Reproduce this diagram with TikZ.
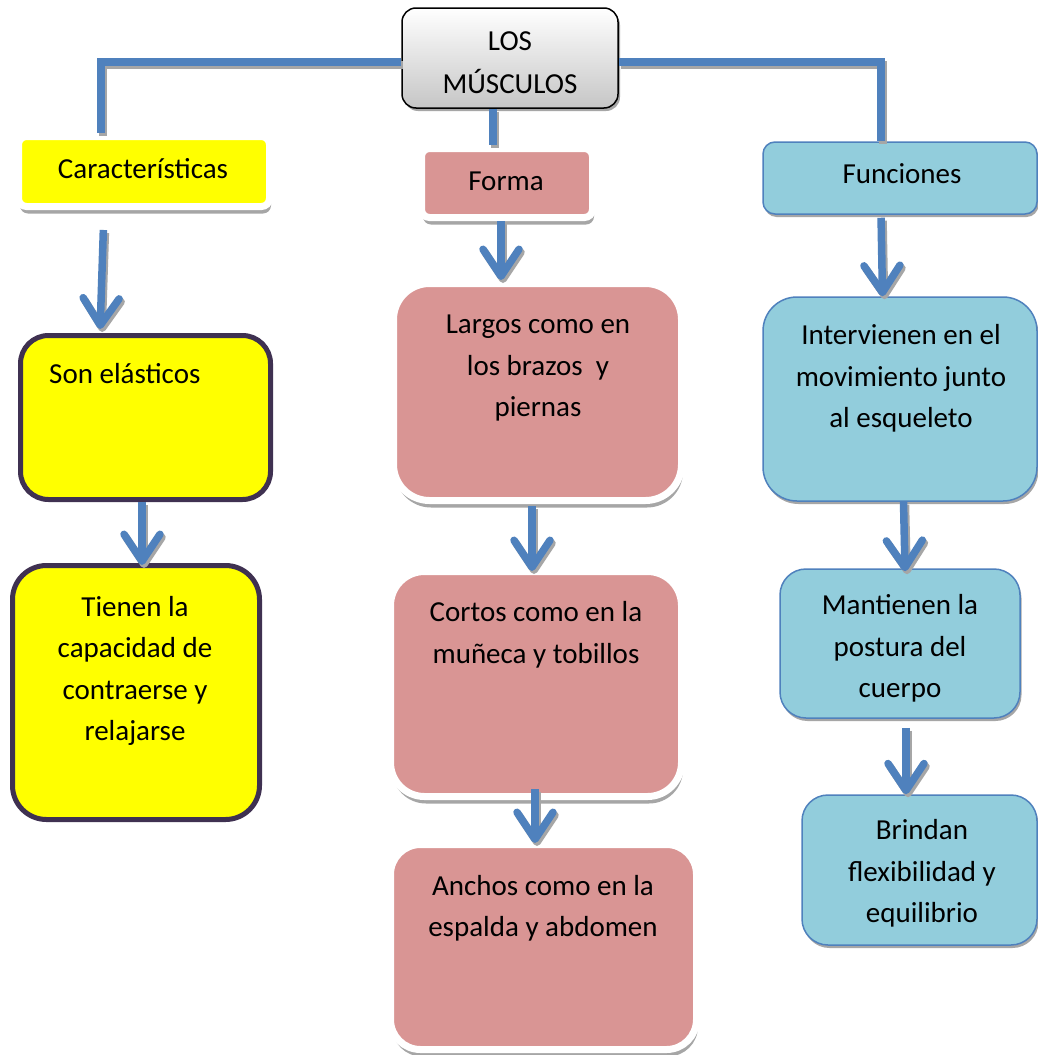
\documentclass[tikz,border=0pt]{standalone}
\usepackage{fontspec}
\setmainfont{Carlito}
\usetikzlibrary{arrows.meta, positioning, shadows, calc}
\definecolor{linkblue}{HTML}{4F81BD}
\definecolor{shadegray}{HTML}{A6A6A6}
\definecolor{sunfill}{HTML}{FFFF00}
\definecolor{plumline}{HTML}{3F3151}
\definecolor{rosefill}{HTML}{D99594}
\definecolor{aquafill}{HTML}{92CDDC}
\tikzset{%
	title/.style={draw=black, line width=1.5pt, rounded corners=14pt, inner sep=0pt,%
		top color=white, bottom color=gray!45,%
		drop shadow={shadow xshift=2pt, shadow yshift=-3pt, fill=shadegray, opacity=1}},
	rimbox/.style={draw=white, line width=7pt, inner sep=0pt,%
		drop shadow={shadow xshift=1.5pt, shadow yshift=-7pt, fill=shadegray, opacity=1}},
	sunbox/.style={draw=plumline, fill=sunfill, line width=5pt, inner sep=0pt},
	aquabox/.style={draw=linkblue, fill=aquafill, line width=1.5pt, inner sep=0pt,%
		drop shadow={shadow xshift=1.5pt, shadow yshift=-3pt, fill=shadegray, opacity=1}},
	txt/.style={align=center, inner sep=0pt, font=\fontsize{29}{41.5}\selectfont},
	link/.style={draw=linkblue, line width=7.5pt,%
		preaction={draw=shadegray, line width=7.5pt, transform canvas={shift={(2pt,-3pt)}}}},
	flow/.style={link, -{Straight Barb[length=27pt, width=36pt, round]}}
}
\begin{document}
\begin{tikzpicture}[x=1pt, y=-1pt]
	\useasboundingbox[fill=white] (0,0) rectangle (1038,1055);

	\node[title, minimum width=216pt, minimum height=100pt] (musc) at (510,58) {};
	\node[txt, font=\fontsize{29}{43}\selectfont] (musc-t) at (510,62.2) {LOS\\MÚSCULOS};

	\node[rimbox, fill=sunfill, rounded corners=8pt, minimum width=251pt, minimum height=70pt] (carac) at (144,171.5) {};
	\node[txt, anchor=base] (carac-t) at (143,178) {Características};
	\node[rimbox, fill=rosefill, rounded corners=8pt, minimum width=171pt, minimum height=69pt] (forma) at (507,183) {};
	\node[txt, anchor=base] (forma-t) at (506,190) {Forma};
	\node[aquabox, rounded corners=12pt, minimum width=274pt, minimum height=72pt] (func) at (900,178) {};
	\node[txt, anchor=base] (func-t) at (902,183) {Funciones};

	\node[sunbox, rounded corners=28pt, minimum width=250pt, minimum height=164pt] (elast) at (145.5,417.5) {};
	\node[txt, anchor=base west] (elast-t) at (49,383) {Son elásticos};
	\node[sunbox, rounded corners=34pt, minimum width=247pt, minimum height=254pt] (contr) at (136,692.5) {};
	\node[txt] (contr-t) at (135,670.8) {Tienen la\\capacidad de\\contraerse y\\relajarse};

	\node[rimbox, fill=rosefill, rounded corners=36pt, minimum width=288pt, minimum height=217pt] (largo) at (537.5,392) {};
	\node[txt] (largo-t) at (538,368.5) {Largos como en\\los brazos\ \ y\\piernas};
	\node[rimbox, fill=rosefill, rounded corners=34pt, minimum width=291pt, minimum height=225pt] (corto) at (536,684) {};
	\node[txt] (corto-t) at (536,634.8) {Cortos como en la\\muñeca y tobillos};
	\node[rimbox, fill=rosefill, rounded corners=30pt, minimum width=306pt, minimum height=205pt] (ancho) at (543.5,947) {};
	\node[txt] (ancho-t) at (543,908.4) {Anchos como en la\\espalda y abdomen};

	\node[aquabox, rounded corners=34pt, minimum width=274pt, minimum height=204pt] (mover) at (900,399) {};
	\node[txt] (mover-t) at (901,378.3) {Intervienen en el\\movimiento junto\\al esqueleto};
	\node[aquabox, rounded corners=26pt, minimum width=240pt, minimum height=149pt] (postu) at (900,643.5) {};
	\node[txt] (postu-t) at (900,648.4) {Mantienen la\\postura del\\cuerpo};
	\node[aquabox, rounded corners=26pt, minimum width=235pt, minimum height=150pt] (flexi) at (919.5,870) {};
	\node[txt] (flexi-t) at (922,873.4) {Brindan\\flexibilidad y\\equilibrio};

	\draw[link] ($(musc.west)+(0,4)$) -| ([xshift=-43pt]carac.north);
	\draw[link] ($(musc.east)+(0,4)$) -| ([xshift=-19pt]func.north);
	\draw[link] ([xshift=-17pt]musc.south) -- ([xshift=-14pt]forma.north);

	\draw[flow, shorten <=20pt, shorten >=4pt] ([xshift=-40pt]carac.south) -- ([xshift=-45.5pt]elast.north);
	\draw[flow] ([xshift=-6pt]forma.south) -- ([xshift=-36.5pt]largo.north);
	\draw[flow, shorten <=3pt] ([xshift=-19pt]func.south) -- ([xshift=-17.5pt]mover.north);
	\draw[flow, shorten >=-2pt] ([xshift=-3.5pt]elast.south) -- ([xshift=6pt]contr.north);
	\draw[flow, shorten <=2pt, shorten >=-3pt] ([xshift=-5.5pt]largo.south) -- ([xshift=-4pt]corto.north);
	\draw[flow, shorten <=-11pt, shorten >=-2pt] ([xshift=-1pt]corto.south) -- ([xshift=-8.5pt]ancho.north);
	\draw[flow, shorten >=-3pt] ([xshift=3.5pt]mover.south) -- ([xshift=5pt]postu.north);
	\draw[flow, shorten <=9pt] ([xshift=6pt]postu.south) -- ([xshift=-13.5pt]flexi.north);
\end{tikzpicture}
\end{document}
